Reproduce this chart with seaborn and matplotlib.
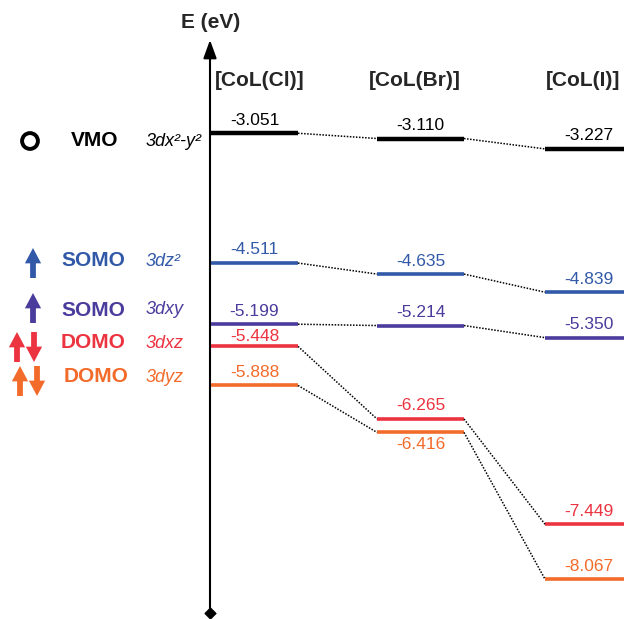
import numpy as np
import pandas as pd
import matplotlib.pyplot as plt
import matplotlib.transforms as mtransforms
from matplotlib.patches import FancyArrowPatch
import seaborn as sns

# data
complexes = ["[CoL(Cl)]", "[CoL(Br)]", "[CoL(I)]"]
orbitals = ["3dx²-y²", "3dz²", "3dxy", "3dxz", "3dyz"]
occupancy = ["VMO", "SOMO", "SOMO", "DOMO", "DOMO"]
spins = ["none", "up", "up", "pair", "pair"]
e_cl = [-3.051, -4.511, -5.199, -5.448, -5.888]
e_br = [-3.110, -4.635, -5.214, -6.265, -6.416]
e_i = [-3.227, -4.839, -5.350, -7.449, -8.067]
colors = ["#000000", "#3259a8", "#4a3c9c", "#ec3340", "#f26b2a"]

energies = [e_cl, e_br, e_i]

sns.set_theme(style="white")
plt.rcParams["font.family"] = ["Liberation Sans", "DejaVu Sans"]

fig = plt.figure(figsize=(6.24, 6.19), dpi=100)
ax = fig.add_axes([0, 0, 1, 1])
ax.set_xlim(0, 624)
ax.set_ylim(-8.515, -1.552)
ax.axis("off")
trans = mtransforms.blended_transform_factory(ax.transData, ax.transAxes)

col_left = [211, 377, 545]
bar_w = 87

# level bars
rows = []
for ci, cname in enumerate(complexes):
    for oi, orb in enumerate(orbitals):
        for x in (col_left[ci], col_left[ci] + bar_w):
            rows.append({"complex": cname, "orbital": orb, "x": x, "E": energies[ci][oi]})
levels = pd.DataFrame(rows)

for oi, orb in enumerate(orbitals):
    sub = levels[levels["orbital"] == orb]
    sns.lineplot(data=sub, x="x", y="E", units="complex", estimator=None,
                 color=colors[oi], lw=3.2 if oi == 0 else 2.6,
                 solid_capstyle="butt", ax=ax, legend=False)
    for ci in range(3):
        e = energies[ci][oi]
        gap = energies[ci][oi - 1] - e if oi > 0 else 9
        # label goes under the bar if the level above is too close
        if gap < 0.2:
            off, va = -3, "top"
        elif gap < 0.3:
            off, va = 1.5, "bottom"
        else:
            off, va = 4, "bottom"
        ax.annotate(f"{e:.3f}", (col_left[ci] + bar_w / 2, e),
                    xytext=(0, off), textcoords="offset points",
                    ha="center", va=va, fontsize=12.5, color=colors[oi])

# dotted connectors
crows = []
for oi, orb in enumerate(orbitals):
    for ci in range(2):
        seg = f"{orb}-{ci}"
        crows.append({"seg": seg, "x": col_left[ci] + bar_w, "E": energies[ci][oi]})
        crows.append({"seg": seg, "x": col_left[ci + 1], "E": energies[ci + 1][oi]})
conn = pd.DataFrame(crows)
sns.lineplot(data=conn, x="x", y="E", units="seg", estimator=None, color="black",
             lw=1.1, linestyle=(0, (1, 1)), ax=ax, legend=False)

# energy axis
ax.add_patch(FancyArrowPatch((210, 1 - 613 / 619), (210, 1 - 40 / 619), transform=trans,
                             arrowstyle="-|>,head_length=0.55,head_width=0.2",
                             mutation_scale=20, lw=1.5, color="black",
                             shrinkA=0, shrinkB=0))
ax.scatter([210], [1 - 613 / 619], transform=trans, marker="D", s=30,
           color="black", zorder=3)

ax.text(211, 1 - 22 / 619, "E (eV)", transform=trans, ha="center", va="center",
        fontsize=15, fontweight="bold")
for cname, xc in zip(complexes, [260, 415, 583]):
    ax.text(xc, 1 - 80 / 619, cname, transform=trans, ha="center", va="center",
            fontsize=15, fontweight="bold")

# left legend column
row_y = [141, 261, 310, 343, 377]
label_x = [95, 93, 93, 93, 96]
arrow_y = [141, 263, 308, 347, 381]
arrow_style = "simple,head_length=0.85,head_width=0.9,tail_width=0.32"
half = 15 / 619
for oi in range(len(orbitals)):
    yf = 1 - row_y[oi] / 619
    ax.text(label_x[oi], yf, occupancy[oi], transform=trans, ha="center",
            va="center", fontsize=15, fontweight="bold", color=colors[oi])
    ax.text(146, yf, orbitals[oi], transform=trans, ha="left", va="center",
            fontsize=13, style="italic", color=colors[oi])
    ya = 1 - arrow_y[oi] / 619
    if spins[oi] == "none":
        ax.scatter([30], [ya], transform=trans, s=130, facecolor="none",
                   edgecolor="black", lw=2.8)
        continue
    if spins[oi] == "up":
        ups, downs = [33], []
    else:
        xu = 17 if oi == 3 else 20
        ups, downs = [xu], [xu + 17]
    for x in ups:
        ax.add_patch(FancyArrowPatch((x, ya - half), (x, ya + half), transform=trans,
                                     arrowstyle=arrow_style, mutation_scale=13,
                                     color=colors[oi], lw=0, shrinkA=0, shrinkB=0))
    for x in downs:
        ax.add_patch(FancyArrowPatch((x, ya + half), (x, ya - half), transform=trans,
                                     arrowstyle=arrow_style, mutation_scale=13,
                                     color=colors[oi], lw=0, shrinkA=0, shrinkB=0))

fig.savefig("out.png", dpi=100)
